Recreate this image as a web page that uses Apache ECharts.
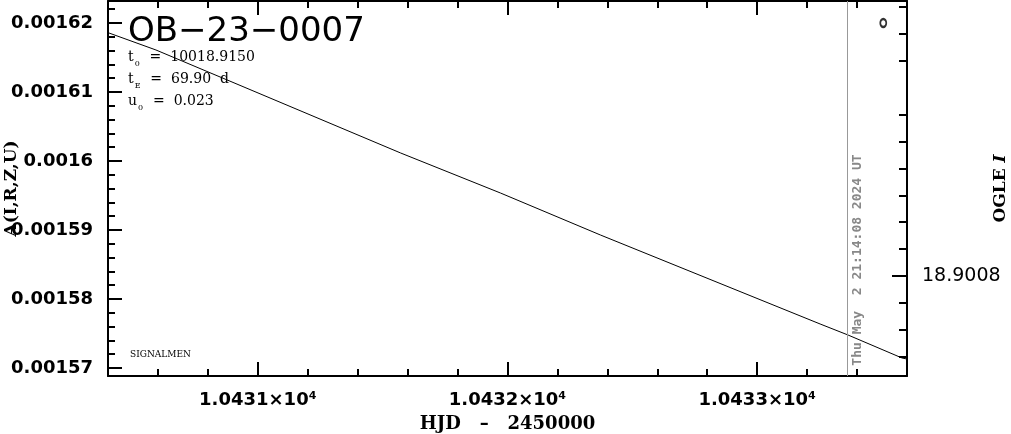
<!DOCTYPE html>
<html><head><meta charset="utf-8">
<script src="https://cdn.jsdelivr.net/npm/echarts@6/dist/echarts.min.js"></script>
<style>html,body{margin:0;padding:0;background:#fff}#c{width:1011px;height:434px}</style>
</head><body><div id="c"></div>
<script>
// ---- data ----
const hjd = [10430.404, 10430.592, 10431.572, 10431.972, 10432.372, 10433.252, 10433.364, 10433.58, 10433.6];
const amp = [0.00161855, 0.00161609, 0.00160116, 0.00159536, 0.00158928, 0.00157638, 0.00157478, 0.00157145, 0.00157130];
const pointHJD = [10433.505];
const pointAmp = [0.00162];
const nowLineHJD = [10433.364];

const xRange = [10430.4, 10433.6];
const xMajorTicks = [10431, 10432, 10433];
const xTickLabels = ['1.0431×10⁴', '1.0432×10⁴', '1.0433×10⁴'];
const xMinorTicks = [10430.6, 10430.8, 10431.2, 10431.4, 10431.6, 10431.8, 10432.2, 10432.4, 10432.6, 10432.8, 10433.2, 10433.4];

const yRange = [0.001568841, 0.001623188];
const yMajorTicks = [0.00157, 0.00158, 0.00159, 0.0016, 0.00161, 0.00162];
const yTickLabels = ['0.00157', '0.00158', '0.00159', '0.0016', '0.00161', '0.00162'];
const yMinorTicks = [0.001572, 0.001574, 0.001576, 0.001578, 0.001582, 0.001584, 0.001586, 0.001588,
  0.001592, 0.001594, 0.001596, 0.001598, 0.001602, 0.001604, 0.001606, 0.001608,
  0.001612, 0.001614, 0.001616, 0.001618, 0.001622];

const magRange = [18.90069777, 18.90083717];
const magMajorTicks = [18.9008];
const magTickLabels = ['18.9008'];
const magMinorTicks = [18.9007, 18.90071, 18.90072, 18.90074, 18.90075, 18.90076, 18.90077, 18.90078, 18.90079, 18.90081, 18.90082, 18.90083];

const titleText = 'OB−23−0007';
const paramNames = [['t', '0'], ['t', 'E'], ['u', '0']];
const paramValues = ['10018.9150', '69.90  d', '0.023'];
const stampText = 'Thu May  2 21:14:08 2024 UT';

function labelFor(ticks, labels) {
  return function (v) {
    for (let i = 0; i < ticks.length; i++) {
      if (Math.abs(ticks[i] - v) < 1e-9) return labels[i];
    }
    return '';
  };
}

const chart = echarts.init(document.getElementById('c'));
const black = '#000';
const baseX = { type: 'value', min: xRange[0], max: xRange[1], gridIndex: 0, splitLine: { show: false } };
const baseY = { type: 'value', min: yRange[0], max: yRange[1], gridIndex: 0, splitLine: { show: false } };

const paramText = paramNames.map((p, i) => '{t|' + p[0] + '}{s|' + p[1] + '}{t|  =  ' + paramValues[i] + '}').join('\n');

chart.setOption({
  animation: false,
  backgroundColor: '#fff',
  grid: { left: 108, right: 104, top: 1, bottom: 58, containLabel: false, outerBoundsMode: 'none' },
  xAxis: [
    Object.assign({}, baseX, {
      position: 'bottom',
      axisLine: { show: true, lineStyle: { color: black, width: 2 } },
      axisTick: { show: true, inside: true, length: 14, customValues: xMajorTicks, lineStyle: { color: black, width: 2 } },
      axisLabel: { show: true, customValues: xMajorTicks, formatter: labelFor(xMajorTicks, xTickLabels), margin: 15,
        color: black, fontFamily: 'DejaVu Sans', fontWeight: 'bold', fontSize: 18 },
      name: 'HJD   –   2450000', nameLocation: 'middle', nameGap: 39, nameMoveOverlap: false,
      nameTextStyle: { color: black, fontFamily: 'DejaVu Serif', fontWeight: 'bold', fontSize: 18 }
    }),
    Object.assign({}, baseX, {
      position: 'bottom',
      axisLine: { show: false },
      axisTick: { show: true, inside: true, length: 7, customValues: xMinorTicks, lineStyle: { color: black, width: 2 } },
      axisLabel: { show: false }
    }),
    Object.assign({}, baseX, {
      position: 'top',
      axisLine: { show: true, lineStyle: { color: black, width: 2 } },
      axisTick: { show: true, inside: true, length: 14, customValues: xMajorTicks, lineStyle: { color: black, width: 2 } },
      axisLabel: { show: false }
    }),
    Object.assign({}, baseX, {
      position: 'top',
      axisLine: { show: false },
      axisTick: { show: true, inside: true, length: 7, customValues: xMinorTicks, lineStyle: { color: black, width: 2 } },
      axisLabel: { show: false }
    })
  ],
  yAxis: [
    Object.assign({}, baseY, {
      position: 'left',
      axisLine: { show: true, lineStyle: { color: black, width: 2 } },
      axisTick: { show: true, inside: true, length: 14, customValues: yMajorTicks, lineStyle: { color: black, width: 2 } },
      axisLabel: { show: true, customValues: yMajorTicks, formatter: labelFor(yMajorTicks, yTickLabels), margin: 15,
        color: black, fontFamily: 'DejaVu Sans', fontWeight: 'bold', fontSize: 18 },
      name: 'A(I,R,Z,U)', nameLocation: 'middle', nameGap: 88, nameRotate: 90, nameMoveOverlap: false,
      nameTextStyle: { color: black, fontFamily: 'DejaVu Serif', fontWeight: 'bold', fontSize: 17 }
    }),
    Object.assign({}, baseY, {
      position: 'left',
      axisLine: { show: false },
      axisTick: { show: true, inside: true, length: 7, customValues: yMinorTicks, lineStyle: { color: black, width: 2 } },
      axisLabel: { show: false }
    }),
    {
      type: 'value', gridIndex: 0, position: 'right', inverse: true, min: magRange[0], max: magRange[1],
      splitLine: { show: false },
      axisLine: { show: true, lineStyle: { color: black, width: 2 } },
      axisTick: { show: true, inside: true, length: 15, customValues: magMajorTicks, lineStyle: { color: black, width: 2 } },
      axisLabel: { show: true, customValues: magMajorTicks, formatter: labelFor(magMajorTicks, magTickLabels), margin: 15,
        color: black, fontFamily: 'DejaVu Sans', fontSize: 19 },
      name: '{b|OGLE }{i|I}', nameLocation: 'middle', nameGap: 85, nameRotate: 90, nameMoveOverlap: false,
      nameTextStyle: { rich: {
        b: { color: black, fontFamily: 'DejaVu Serif', fontWeight: 'bold', fontSize: 17 },
        i: { color: black, fontFamily: 'DejaVu Serif', fontWeight: 'bold', fontStyle: 'italic', fontSize: 17 }
      } }
    },
    {
      type: 'value', gridIndex: 0, position: 'right', inverse: true, min: magRange[0], max: magRange[1],
      splitLine: { show: false },
      axisLine: { show: false },
      axisTick: { show: true, inside: true, length: 8, customValues: magMinorTicks, lineStyle: { color: black, width: 2 } },
      axisLabel: { show: false }
    }
  ],
  series: [
    {
      type: 'line', xAxisIndex: 0, yAxisIndex: 0,
      data: hjd.map((x, i) => [x, amp[i]]),
      showSymbol: false, symbol: 'none',
      lineStyle: { color: black, width: 1 },
      clip: true,
      markLine: {
        silent: true, symbol: ['none', 'none'],
        label: { show: false },
        lineStyle: { color: '#999', width: 1, type: 'solid' },
        data: nowLineHJD.map(v => ({ xAxis: v }))
      }
    },
    {
      type: 'scatter', xAxisIndex: 0, yAxisIndex: 0,
      data: pointHJD.map((x, i) => [x, pointAmp[i]]),
      symbol: 'circle', symbolSize: [6, 8],
      itemStyle: { color: '#fff', borderColor: black, borderWidth: 2 }
    }
  ],
  graphic: [
    { type: 'text', left: 128, top: 15, style: { text: titleText, font: '34px "DejaVu Sans"', fill: black } },
    { type: 'text', left: 128, top: 50, style: {
      text: paramText,
      rich: {
        t: { fontFamily: 'DejaVu Serif', fontSize: 14, lineHeight: 22, fill: black },
        s: { fontFamily: 'DejaVu Serif', fontSize: 8, lineHeight: 9, verticalAlign: 'bottom', padding: [0, 1, 0, 1], fill: black }
      }
    } },
    { type: 'text', left: 130, top: 350, style: { text: 'SIGNALMEN', font: '9px "DejaVu Serif"', fill: black } },
    { type: 'text', x: 858, y: 260, rotation: Math.PI / 2, style: {
      text: stampText, font: 'bold 13px "DejaVu Sans Mono"', fill: '#888', align: 'center', verticalAlign: 'middle'
    } }
  ]
});
</script></body></html>
